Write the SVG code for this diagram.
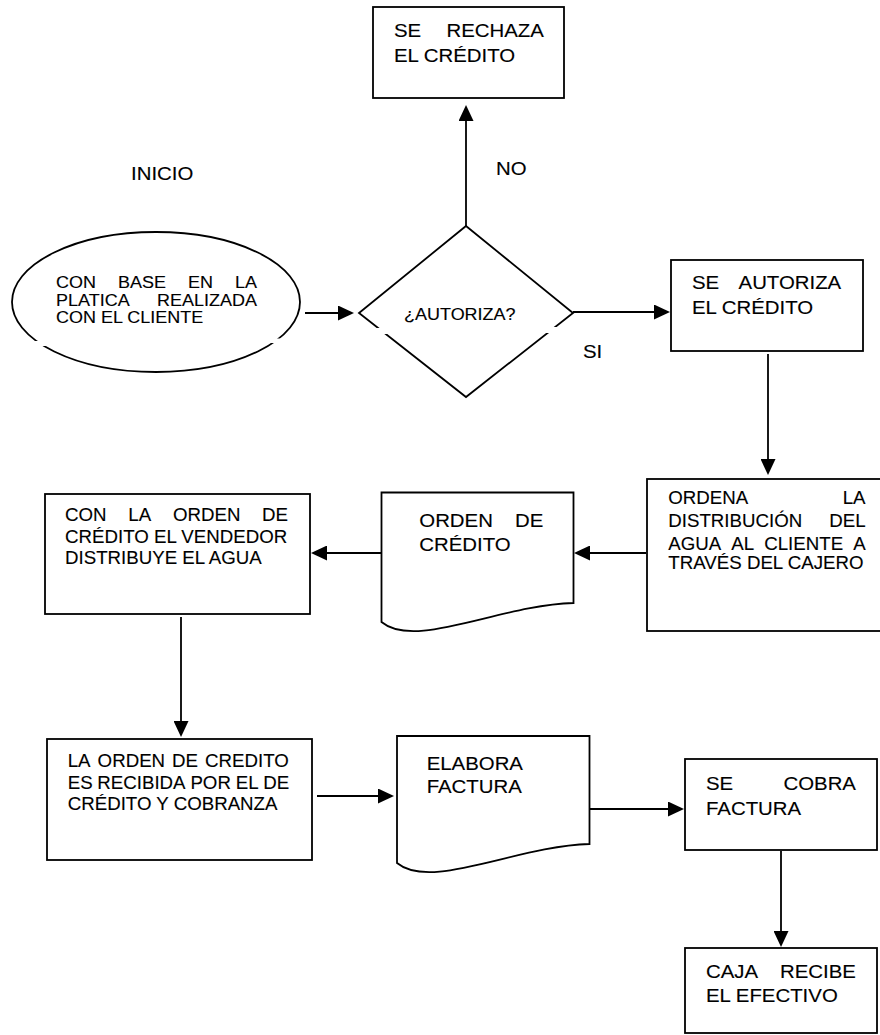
<svg xmlns="http://www.w3.org/2000/svg" width="880" height="1035" viewBox="0 0 880 1035">
<style>
.shape{fill:#fff;stroke:#000;stroke-width:1.8}
.conn{fill:none;stroke:#000;stroke-width:1.8}
.gap{fill:#fff;stroke:none}
.t{font-family:"Liberation Sans",Arial,sans-serif;font-size:18px;fill:#000;stroke:#000;stroke-width:0.12}
.s{font-size:16px}
</style>
<defs>
<marker id="ah" markerUnits="userSpaceOnUse" markerWidth="16" markerHeight="15" refX="12" refY="7.5" orient="auto" viewBox="0 0 16 15">
<path d="M0,0 L16,7.5 L0,15 Z" fill="#000"/>
</marker>
</defs>
<rect width="880" height="1035" fill="#fff"/>

<g id="connectors">
<path class="conn" d="M305,313 H350" marker-end="url(#ah)"/>
<path class="conn" d="M466,226 V109" marker-end="url(#ah)"/>
<path class="conn" d="M573,312 H666" marker-end="url(#ah)"/>
<path class="conn" d="M768,354 V471" marker-end="url(#ah)"/>
<path class="conn" d="M646,553 H578" marker-end="url(#ah)"/>
<path class="conn" d="M381,553 H315" marker-end="url(#ah)"/>
<path class="conn" d="M181,617 V733" marker-end="url(#ah)"/>
<path class="conn" d="M317,796 H390" marker-end="url(#ah)"/>
<path class="conn" d="M589,809 H680" marker-end="url(#ah)"/>
<path class="conn" d="M781,851 V943" marker-end="url(#ah)"/>
</g>

<g id="inicio-label">
<text class="t" transform="translate(131 180) scale(1.133 1)">INICIO</text>
</g>

<g id="label-no">
<text class="t" transform="translate(496 175) scale(1.133 1)">NO</text>
</g>

<g id="label-si">
<text class="t" transform="translate(583 358) scale(1.133 1)">SI</text>
</g>

<g id="inicio">
<ellipse class="shape" cx="156" cy="302" rx="144" ry="70"/>
<rect class="gap" x="33" y="341" width="13" height="5"/>
<rect class="gap" x="270" y="338.5" width="13" height="4.5"/>
<text class="t s" transform="translate(56 288) scale(1.125 1)"><tspan x="0">CON</tspan> <tspan x="55.15">BASE</tspan> <tspan x="117.3">EN</tspan> <tspan x="159.2">LA</tspan></text>
<text class="t s" transform="translate(56 306) scale(1.125 1)"><tspan x="0">PLATICA</tspan> <tspan x="89.8">REALIZADA</tspan></text>
<text class="t s" transform="translate(56 323) scale(1.125 1)">CON EL CLIENTE</text>
</g>

<g id="rechaza">
<rect class="shape" x="373" y="7" width="191" height="91"/>
<text class="t" transform="translate(394 37) scale(1.133 1)"><tspan x="0">SE</tspan> <tspan x="46.33">RECHAZA</tspan></text>
<text class="t" transform="translate(394 62) scale(1.133 1)">EL CRÉDITO</text>
</g>

<g id="autoriza-decision">
<polygon class="shape" points="466,226 573,313 466,397 359,313"/>
<rect class="gap" x="376" y="328" width="13" height="6"/>
<rect class="gap" x="544" y="327" width="13" height="6"/>
<text class="t s" transform="translate(404 320) scale(1.125 1)">¿AUTORIZA?</text>
</g>

<g id="autoriza">
<rect class="shape" x="671" y="260" width="192" height="91"/>
<text class="t" transform="translate(692 289) scale(1.133 1)"><tspan x="0">SE</tspan> <tspan x="41.09">AUTORIZA</tspan></text>
<text class="t" transform="translate(692 314) scale(1.133 1)">EL CRÉDITO</text>
</g>

<g id="ordena">
<rect class="shape" x="647" y="479" width="240" height="152"/>
<text class="t" transform="translate(668.3 504) scale(1.0389 1)"><tspan x="0">ORDENA</tspan> <tspan x="167.9">LA</tspan></text>
<text class="t" transform="translate(668.3 527) scale(1.0389 1)"><tspan x="0">DISTRIBUCIÓN</tspan> <tspan x="155">DEL</tspan></text>
<text class="t" transform="translate(668.3 550) scale(1.0389 1)"><tspan x="0">AGUA</tspan> <tspan x="60.7">AL</tspan> <tspan x="92.3">CLIENTE</tspan> <tspan x="178">A</tspan></text>
<text class="t" transform="translate(668.3 569) scale(1.0389 1)">TRAVÉS DEL CAJERO</text>
</g>

<g id="orden-credito">
<path class="shape" d="M381.5,492.5 H573.5 V603 C500,605 415,650 381.5,622 Z"/>
<text class="t" transform="translate(419.3 527) scale(1.133 1)"><tspan x="0">ORDEN</tspan> <tspan x="84.45">DE</tspan></text>
<text class="t" transform="translate(419.3 551) scale(1.133 1)">CRÉDITO</text>
</g>

<g id="vendedor">
<rect class="shape" x="45" y="494" width="265" height="120"/>
<text class="t" transform="translate(65 521) scale(1.0389 1)"><tspan x="0">CON</tspan> <tspan x="60.9">LA</tspan> <tspan x="103.9">ORDEN</tspan> <tspan x="189.6">DE</tspan></text>
<text class="t" transform="translate(65 543) scale(1.0389 1)">CRÉDITO EL VENDEDOR</text>
<text class="t" transform="translate(65 564) scale(1.0389 1)">DISTRIBUYE EL AGUA</text>
</g>

<g id="recibida">
<rect class="shape" x="47" y="739" width="265" height="121"/>
<text class="t" transform="translate(67.7 767) scale(1.0389 1)"><tspan x="0">LA</tspan> <tspan x="28.8">ORDEN</tspan> <tspan x="100.5">DE</tspan> <tspan x="132.2">CREDITO</tspan></text>
<text class="t" transform="translate(67.7 789) scale(1.0389 1)"><tspan x="0">ES</tspan> <tspan x="28.5">RECIBIDA</tspan> <tspan x="118.1">POR</tspan> <tspan x="161.7">EL</tspan> <tspan x="188.3">DE</tspan></text>
<text class="t" transform="translate(67.7 810) scale(1.0389 1)">CRÉDITO Y COBRANZA</text>
</g>

<g id="factura">
<path class="shape" d="M397,736 H589.5 V844 C516,846 431,891 397,863 Z"/>
<text class="t" transform="translate(426.7 770) scale(1.133 1)">ELABORA</text>
<text class="t" transform="translate(426.7 793) scale(1.133 1)">FACTURA</text>
</g>

<g id="cobra">
<rect class="shape" x="685" y="759" width="192" height="91"/>
<text class="t" transform="translate(706 790) scale(1.133 1)"><tspan x="0">SE</tspan> <tspan x="68.41">COBRA</tspan></text>
<text class="t" transform="translate(706 815) scale(1.133 1)">FACTURA</text>
</g>

<g id="caja">
<rect class="shape" x="685" y="948" width="192" height="85"/>
<text class="t" transform="translate(706 978) scale(1.133 1)"><tspan x="0">CAJA</tspan> <tspan x="65.34">RECIBE</tspan></text>
<text class="t" transform="translate(706 1002) scale(1.133 1)">EL EFECTIVO</text>
</g>
</svg>
